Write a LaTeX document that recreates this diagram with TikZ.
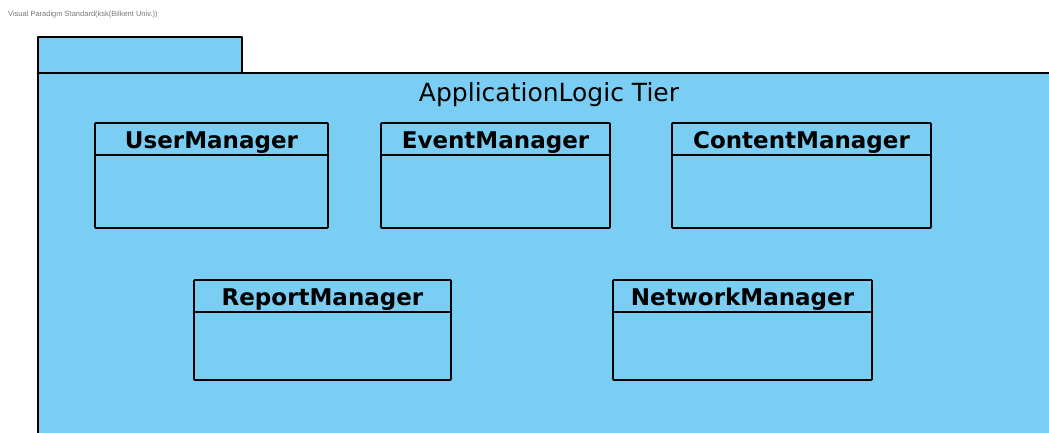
\documentclass[tikz,border=0pt]{standalone}
\usepackage{fontspec}
\setmainfont{DejaVu Sans}
\newfontfamily\markfont{Liberation Sans}
\usetikzlibrary{calc}
\definecolor{pkgblue}{RGB}{122,206,243}
\definecolor{markgray}{RGB}{120,120,120}
\tikzset{
  pkgshape/.style={draw=black, fill=pkgblue, line width=1.6pt, line join=round},
  classbox/.style={draw=black, fill=pkgblue, line width=1.6pt, rectangle, inner sep=0pt, outer sep=0pt, rounded corners=0.8pt},
  classtitle/.style={font=\fontsize{23}{26}\selectfont\bfseries, inner sep=0pt, anchor=base},
  pkgtitle/.style={font=\fontsize{25}{28}\selectfont, inner sep=0pt, anchor=base},
  divider/.style={draw=black, line width=1.6pt},
  watermark/.style={font=\markfont\fontsize{7.5}{8}\selectfont, text=markgray, inner sep=0pt, anchor=base west}
}
\begin{document}
\begin{tikzpicture}[x=1pt, y=-1pt]
  \clip (0,0) rectangle (1049,432);
  \fill[white] (0,0) rectangle (1049,432);

  \node[watermark] (mark) at (8,16) {Visual Paradigm Standard(ksk(Bilkent Univ.))};

  % package: tab and body
  \draw[pkgshape] (38,37) rectangle (242,73);
  \draw[pkgshape] (38,73) rectangle (1070,450);
  \node[pkgtitle] (tier) at (549,101) {ApplicationLogic Tier};

  % classes, first row
  \node[classbox, minimum width=233, minimum height=105] (user) at (211.5,175.5) {};
  \node[classtitle] (userT) at ($(user.north)+(0,25)$) {UserManager};
  \draw[divider] ($(user.north west)+(0,32)$) -- ($(user.north east)+(0,32)$);

  \node[classbox, minimum width=229, minimum height=105] (event) at (495.5,175.5) {};
  \node[classtitle] (eventT) at ($(event.north)+(0,25)$) {EventManager};
  \draw[divider] ($(event.north west)+(0,32)$) -- ($(event.north east)+(0,32)$);

  \node[classbox, minimum width=259, minimum height=105] (content) at (801.5,175.5) {};
  \node[classtitle] (contentT) at ($(content.north)+(0,25)$) {ContentManager};
  \draw[divider] ($(content.north west)+(0,32)$) -- ($(content.north east)+(0,32)$);

  % classes, second row
  \node[classbox, minimum width=257, minimum height=100] (report) at (322.5,330) {};
  \node[classtitle] (reportT) at ($(report.north)+(0,25)$) {ReportManager};
  \draw[divider] ($(report.north west)+(0,32)$) -- ($(report.north east)+(0,32)$);

  \node[classbox, minimum width=259, minimum height=100] (network) at (742.5,330) {};
  \node[classtitle] (networkT) at ($(network.north)+(0,25)$) {NetworkManager};
  \draw[divider] ($(network.north west)+(0,32)$) -- ($(network.north east)+(0,32)$);
\end{tikzpicture}
\end{document}
